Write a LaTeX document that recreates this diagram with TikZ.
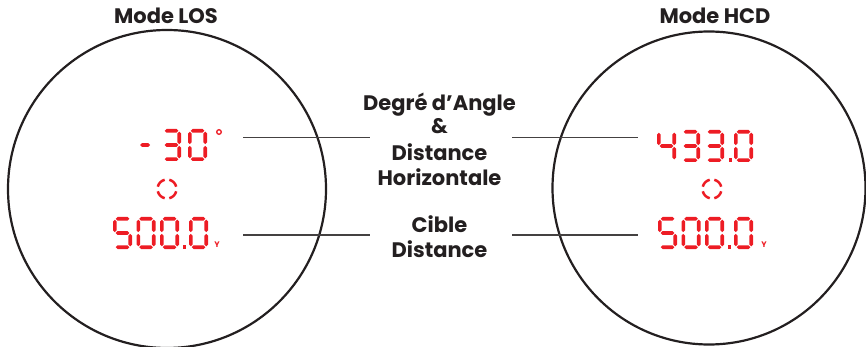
\documentclass[tikz,border=0pt]{standalone}
\usepackage{fontspec}
\setmainfont{Poppins}
\definecolor{lcd}{RGB}{237,28,36}
\definecolor{ink}{RGB}{35,31,32}
\newcommand\hsegm[2]{\fill[lcd] (#1,#2) -- ++(1.8,-1.8) -- ++(10,0) -- ++(1.8,1.8) -- ++(-1.8,1.8) -- ++(-10,0) -- cycle;}
\newcommand\vsegm[2]{\fill[lcd] (#1,#2) -- ++(1.8,1.8) -- ++(0,8.8) -- ++(-1.8,1.8) -- ++(-1.8,-1.8) -- ++(0,-8.8) -- cycle;}
\newcommand\segA[2]{\hsegm{#1+2.7}{#2+1.8}}
\newcommand\segG[2]{\hsegm{#1+2.7}{#2+16}}
\newcommand\segD[2]{\hsegm{#1+2.7}{#2+30.2}}
\newcommand\segF[2]{\vsegm{#1+1.8}{#2+2.7}}
\newcommand\segB[2]{\vsegm{#1+17.2}{#2+2.7}}
\newcommand\segE[2]{\vsegm{#1+1.8}{#2+16.9}}
\newcommand\segC[2]{\vsegm{#1+17.2}{#2+16.9}}
\newcommand\dZero[2]{\segA{#1}{#2}\segB{#1}{#2}\segC{#1}{#2}\segD{#1}{#2}\segE{#1}{#2}\segF{#1}{#2}}
\newcommand\dThree[2]{\segA{#1}{#2}\segB{#1}{#2}\segC{#1}{#2}\segD{#1}{#2}\segG{#1}{#2}}
\newcommand\dFour[2]{\segF{#1}{#2}\segG{#1}{#2}\segB{#1}{#2}\segC{#1}{#2}}
\newcommand\dFive[2]{\segA{#1}{#2}\segF{#1}{#2}\segG{#1}{#2}\segC{#1}{#2}\segD{#1}{#2}}
\newcommand\dDot[2]{\fill[lcd] (#1,#2+28.4) rectangle ++(3.6,3.6);}
\begin{document}
\begin{tikzpicture}[x=1pt,y=-1pt,
  txt/.style={text=ink,font=\fontsize{21}{25}\selectfont\bfseries,anchor=base,inner sep=0pt},
  unit/.style={text=lcd,font=\fontsize{8}{8}\selectfont\bfseries,anchor=base,inner sep=0pt},
  lens/.style={draw=ink,line width=2.2pt},
  leader/.style={draw=ink!85,line width=1.4pt},
  ret/.style={draw=lcd,line width=2.5pt}]
\useasboundingbox (0,0) rectangle (866,347);
\clip (0,0) rectangle (866,347);
% lenses
\draw[lens] (167,189) circle[radius=159pt];
\draw[lens] (709,188) circle[radius=156.5pt];
% titles
\node[txt] (tlos) at (166,24) {Mode LOS};
\node[txt] (thcd) at (715,24) {Mode HCD};
% centre labels
\node[txt] (c1) at (439.5,110.7) {Degré d’Angle};
\node[txt] (c2) at (439.5,134) {\&};
\node[txt] (c3) at (439.5,161) {Distance};
\node[txt] (c4) at (439.5,186) {Horizontale};
\node[txt] (c5) at (439.5,232.7) {Cible};
\node[txt] (c6) at (439.5,257.7) {Distance};
% leaders
\coordinate (la1) at (243,137.5); \coordinate (lb1) at (370,137.5);
\coordinate (la2) at (243,235); \coordinate (lb2) at (370,235);
\coordinate (ra1) at (512,137.5); \coordinate (rb1) at (638,137.5);
\coordinate (ra2) at (512,235); \coordinate (rb2) at (638,235);
\draw[leader] (la1) -- (lb1);
\draw[leader] (la2) -- (lb2);
\draw[leader] (ra1) -- (rb1);
\draw[leader] (ra2) -- (rb2);
% left display: -30 deg
\fill[lcd] (140,145) -- ++(1.8,-1.8) -- ++(6.4,0) -- ++(1.8,1.8) -- ++(-1.8,1.8) -- ++(-6.4,0) -- cycle;
\dThree{162}{129}
\dZero{188}{129}
\draw[lcd,line width=1.3pt] (219,132) circle[radius=2.3pt];
% reticles
\coordinate (retL) at (167,189);
\coordinate (retR) at (712,189);
\foreach \a in {45,135,225,315}{
  \draw[ret] (retL) ++(\a-31:9.5pt) arc[start angle=\a-31,end angle=\a+31,radius=9.5pt];
  \draw[ret] (retR) ++(\a-31:9.5pt) arc[start angle=\a-31,end angle=\a+31,radius=9.5pt];
}
% left display: 500.0 Y
\dFive{113}{217}
\dZero{136.5}{217}
\dZero{160}{217}
\dDot{182.5}{217}
\dZero{189}{217}
\node[unit] (yl) at (217,247.5) {Y};
% right display: 433.0
\dFour{657}{130}
\dThree{681}{130}
\dThree{705}{130}
\dDot{728.5}{130}
\dZero{734}{130}
% right display: 500.0 Y
\dFive{658}{217}
\dZero{681.5}{217}
\dZero{705}{217}
\dDot{727.5}{217}
\dZero{734}{217}
\node[unit] (yr) at (764,247.5) {Y};
\end{tikzpicture}
\end{document}
